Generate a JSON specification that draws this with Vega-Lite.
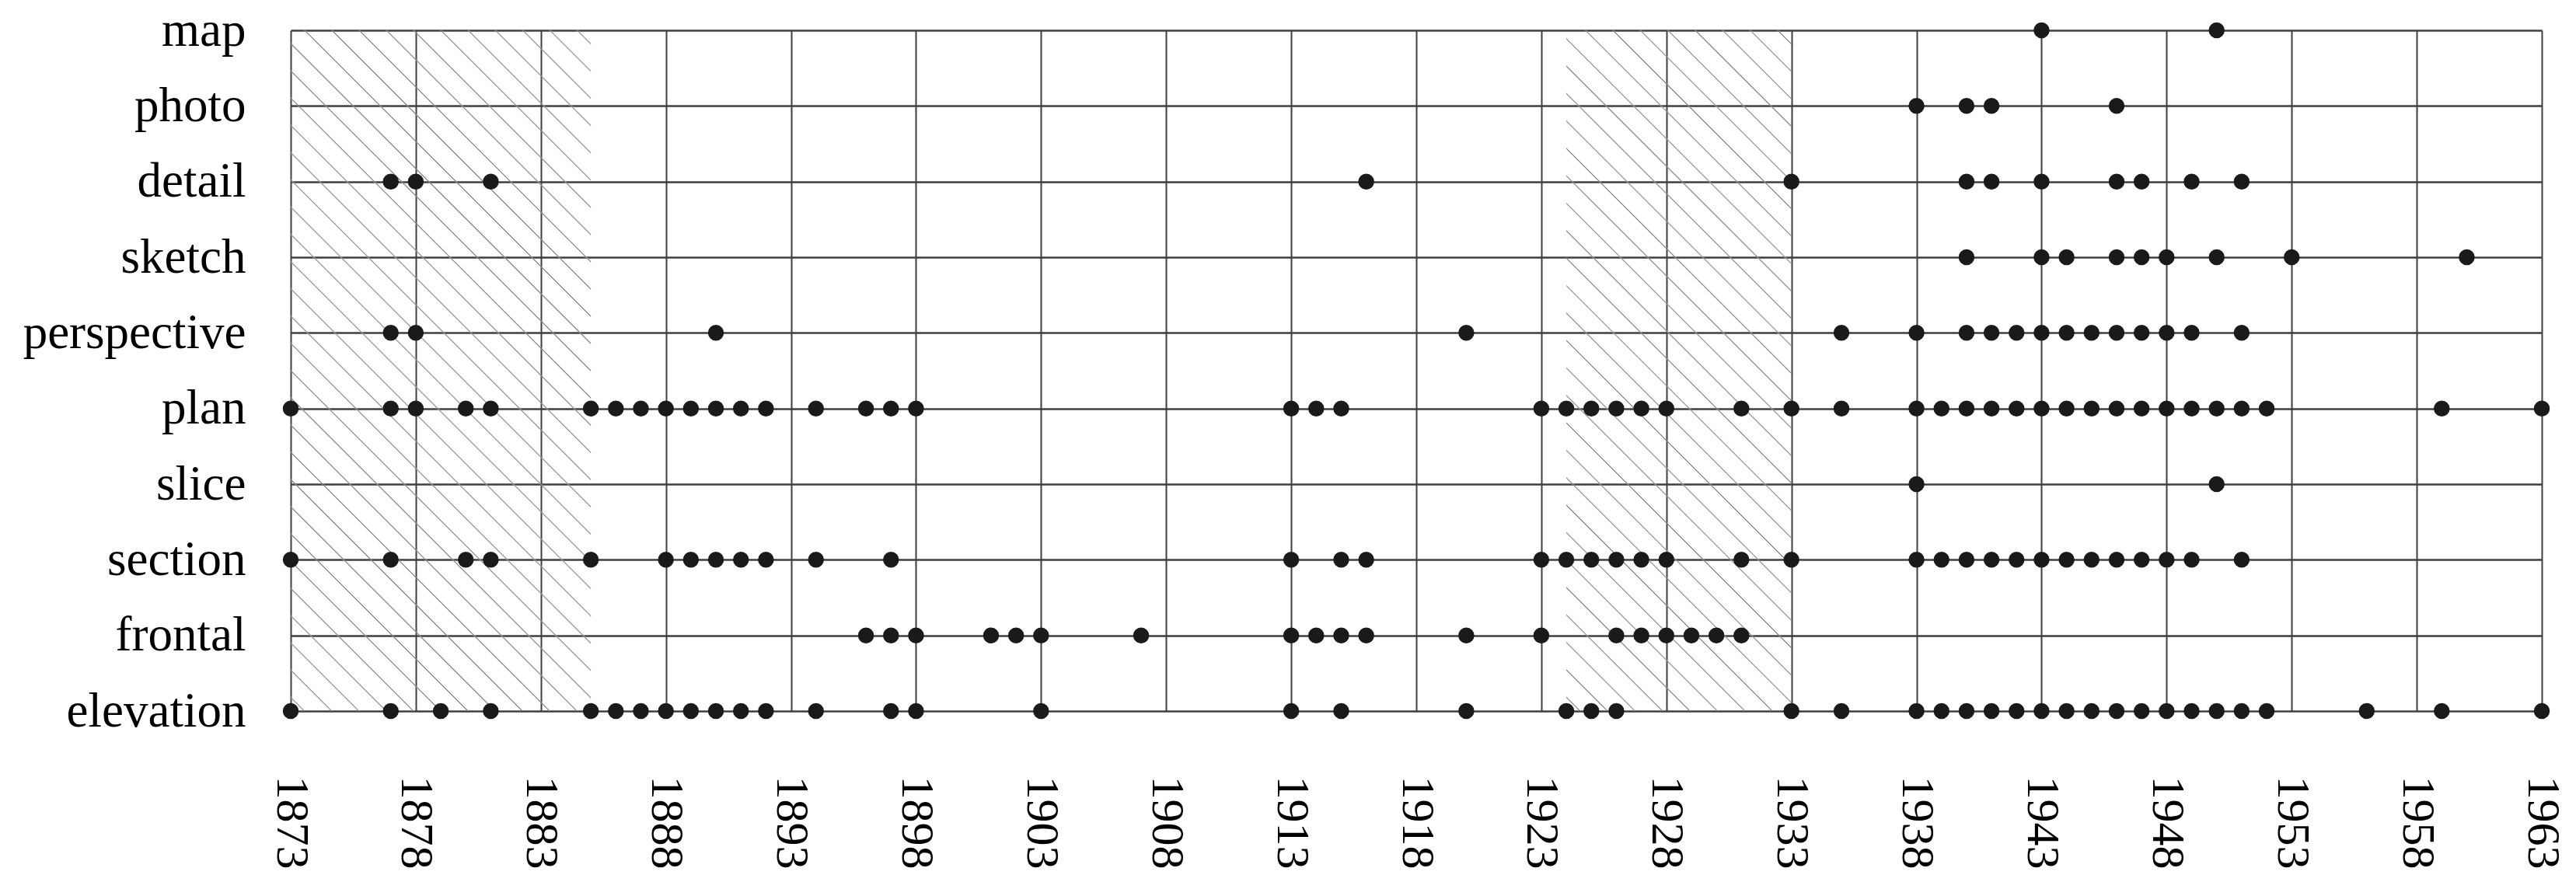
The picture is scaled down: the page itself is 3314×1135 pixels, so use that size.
{
  "$schema": "https://vega.github.io/schema/vega-lite/v6.json",
  "width": 2896,
  "height": 876,
  "autosize": {"type": "none"},
  "padding": {"left": 374, "top": 39, "right": 44, "bottom": 220},
  "background": "white",
  "datasets": {
    "periods": [
      {"start": 1873, "end": 1885},
      {"start": 1924, "end": 1933}
    ],
    "drawings": [
      {"type": "map", "year": 1943}, {"type": "map", "year": 1950},
      {"type": "photo", "year": 1938}, {"type": "photo", "year": 1940}, {"type": "photo", "year": 1941}, {"type": "photo", "year": 1946},
      {"type": "detail", "year": 1877}, {"type": "detail", "year": 1878}, {"type": "detail", "year": 1881}, {"type": "detail", "year": 1916}, {"type": "detail", "year": 1933}, {"type": "detail", "year": 1940}, {"type": "detail", "year": 1941}, {"type": "detail", "year": 1943}, {"type": "detail", "year": 1946}, {"type": "detail", "year": 1947}, {"type": "detail", "year": 1949}, {"type": "detail", "year": 1951},
      {"type": "sketch", "year": 1940}, {"type": "sketch", "year": 1943}, {"type": "sketch", "year": 1944}, {"type": "sketch", "year": 1946}, {"type": "sketch", "year": 1947}, {"type": "sketch", "year": 1948}, {"type": "sketch", "year": 1950}, {"type": "sketch", "year": 1953}, {"type": "sketch", "year": 1960},
      {"type": "perspective", "year": 1877}, {"type": "perspective", "year": 1878}, {"type": "perspective", "year": 1890}, {"type": "perspective", "year": 1920}, {"type": "perspective", "year": 1935}, {"type": "perspective", "year": 1938}, {"type": "perspective", "year": 1940}, {"type": "perspective", "year": 1941}, {"type": "perspective", "year": 1942}, {"type": "perspective", "year": 1943}, {"type": "perspective", "year": 1944}, {"type": "perspective", "year": 1945}, {"type": "perspective", "year": 1946}, {"type": "perspective", "year": 1947}, {"type": "perspective", "year": 1948}, {"type": "perspective", "year": 1949}, {"type": "perspective", "year": 1951},
      {"type": "plan", "year": 1873}, {"type": "plan", "year": 1877}, {"type": "plan", "year": 1878}, {"type": "plan", "year": 1880}, {"type": "plan", "year": 1881}, {"type": "plan", "year": 1885}, {"type": "plan", "year": 1886}, {"type": "plan", "year": 1887}, {"type": "plan", "year": 1888}, {"type": "plan", "year": 1889}, {"type": "plan", "year": 1890}, {"type": "plan", "year": 1891}, {"type": "plan", "year": 1892}, {"type": "plan", "year": 1894}, {"type": "plan", "year": 1896}, {"type": "plan", "year": 1897}, {"type": "plan", "year": 1898}, {"type": "plan", "year": 1913}, {"type": "plan", "year": 1914}, {"type": "plan", "year": 1915}, {"type": "plan", "year": 1923}, {"type": "plan", "year": 1924}, {"type": "plan", "year": 1925}, {"type": "plan", "year": 1926}, {"type": "plan", "year": 1927}, {"type": "plan", "year": 1928}, {"type": "plan", "year": 1931}, {"type": "plan", "year": 1933}, {"type": "plan", "year": 1935}, {"type": "plan", "year": 1938}, {"type": "plan", "year": 1939}, {"type": "plan", "year": 1940}, {"type": "plan", "year": 1941}, {"type": "plan", "year": 1942}, {"type": "plan", "year": 1943}, {"type": "plan", "year": 1944}, {"type": "plan", "year": 1945}, {"type": "plan", "year": 1946}, {"type": "plan", "year": 1947}, {"type": "plan", "year": 1948}, {"type": "plan", "year": 1949}, {"type": "plan", "year": 1950}, {"type": "plan", "year": 1951}, {"type": "plan", "year": 1952}, {"type": "plan", "year": 1959}, {"type": "plan", "year": 1963},
      {"type": "slice", "year": 1938}, {"type": "slice", "year": 1950},
      {"type": "section", "year": 1873}, {"type": "section", "year": 1877}, {"type": "section", "year": 1880}, {"type": "section", "year": 1881}, {"type": "section", "year": 1885}, {"type": "section", "year": 1888}, {"type": "section", "year": 1889}, {"type": "section", "year": 1890}, {"type": "section", "year": 1891}, {"type": "section", "year": 1892}, {"type": "section", "year": 1894}, {"type": "section", "year": 1897}, {"type": "section", "year": 1913}, {"type": "section", "year": 1915}, {"type": "section", "year": 1916}, {"type": "section", "year": 1923}, {"type": "section", "year": 1924}, {"type": "section", "year": 1925}, {"type": "section", "year": 1926}, {"type": "section", "year": 1927}, {"type": "section", "year": 1928}, {"type": "section", "year": 1931}, {"type": "section", "year": 1933}, {"type": "section", "year": 1938}, {"type": "section", "year": 1939}, {"type": "section", "year": 1940}, {"type": "section", "year": 1941}, {"type": "section", "year": 1942}, {"type": "section", "year": 1943}, {"type": "section", "year": 1944}, {"type": "section", "year": 1945}, {"type": "section", "year": 1946}, {"type": "section", "year": 1947}, {"type": "section", "year": 1948}, {"type": "section", "year": 1949}, {"type": "section", "year": 1951},
      {"type": "frontal", "year": 1896}, {"type": "frontal", "year": 1897}, {"type": "frontal", "year": 1898}, {"type": "frontal", "year": 1901}, {"type": "frontal", "year": 1902}, {"type": "frontal", "year": 1903}, {"type": "frontal", "year": 1907}, {"type": "frontal", "year": 1913}, {"type": "frontal", "year": 1914}, {"type": "frontal", "year": 1915}, {"type": "frontal", "year": 1916}, {"type": "frontal", "year": 1920}, {"type": "frontal", "year": 1923}, {"type": "frontal", "year": 1926}, {"type": "frontal", "year": 1927}, {"type": "frontal", "year": 1928}, {"type": "frontal", "year": 1929}, {"type": "frontal", "year": 1930}, {"type": "frontal", "year": 1931},
      {"type": "elevation", "year": 1873}, {"type": "elevation", "year": 1877}, {"type": "elevation", "year": 1879}, {"type": "elevation", "year": 1881}, {"type": "elevation", "year": 1885}, {"type": "elevation", "year": 1886}, {"type": "elevation", "year": 1887}, {"type": "elevation", "year": 1888}, {"type": "elevation", "year": 1889}, {"type": "elevation", "year": 1890}, {"type": "elevation", "year": 1891}, {"type": "elevation", "year": 1892}, {"type": "elevation", "year": 1894}, {"type": "elevation", "year": 1897}, {"type": "elevation", "year": 1898}, {"type": "elevation", "year": 1903}, {"type": "elevation", "year": 1913}, {"type": "elevation", "year": 1915}, {"type": "elevation", "year": 1920}, {"type": "elevation", "year": 1924}, {"type": "elevation", "year": 1925}, {"type": "elevation", "year": 1926}, {"type": "elevation", "year": 1933}, {"type": "elevation", "year": 1935}, {"type": "elevation", "year": 1938}, {"type": "elevation", "year": 1939}, {"type": "elevation", "year": 1940}, {"type": "elevation", "year": 1941}, {"type": "elevation", "year": 1942}, {"type": "elevation", "year": 1943}, {"type": "elevation", "year": 1944}, {"type": "elevation", "year": 1945}, {"type": "elevation", "year": 1946}, {"type": "elevation", "year": 1947}, {"type": "elevation", "year": 1948}, {"type": "elevation", "year": 1949}, {"type": "elevation", "year": 1950}, {"type": "elevation", "year": 1951}, {"type": "elevation", "year": 1952}, {"type": "elevation", "year": 1956}, {"type": "elevation", "year": 1959}, {"type": "elevation", "year": 1963}
    ]
  },
  "layer": [
    {
      "data": {"name": "periods"},
      "transform": [{"filter": "datum.start == 1873"}],
      "mark": {
        "type": "rect",
        "fill": {
          "gradient": "linear",
          "x1": 0, "y1": 1, "x2": 0.5316, "y2": -0.2064,
          "stops": [
            {"offset": 0.0123, "color": "rgba(255,255,255,0)"}, {"offset": 0.0139, "color": "#6a6a6a"}, {"offset": 0.0155, "color": "rgba(255,255,255,0)"},
            {"offset": 0.0401, "color": "rgba(255,255,255,0)"}, {"offset": 0.0417, "color": "#6a6a6a"}, {"offset": 0.0433, "color": "rgba(255,255,255,0)"},
            {"offset": 0.0678, "color": "rgba(255,255,255,0)"}, {"offset": 0.0694, "color": "#6a6a6a"}, {"offset": 0.0710, "color": "rgba(255,255,255,0)"},
            {"offset": 0.0956, "color": "rgba(255,255,255,0)"}, {"offset": 0.0972, "color": "#6a6a6a"}, {"offset": 0.0988, "color": "rgba(255,255,255,0)"},
            {"offset": 0.1234, "color": "rgba(255,255,255,0)"}, {"offset": 0.1250, "color": "#6a6a6a"}, {"offset": 0.1266, "color": "rgba(255,255,255,0)"},
            {"offset": 0.1512, "color": "rgba(255,255,255,0)"}, {"offset": 0.1528, "color": "#6a6a6a"}, {"offset": 0.1544, "color": "rgba(255,255,255,0)"},
            {"offset": 0.1790, "color": "rgba(255,255,255,0)"}, {"offset": 0.1806, "color": "#6a6a6a"}, {"offset": 0.1822, "color": "rgba(255,255,255,0)"},
            {"offset": 0.2067, "color": "rgba(255,255,255,0)"}, {"offset": 0.2083, "color": "#6a6a6a"}, {"offset": 0.2099, "color": "rgba(255,255,255,0)"},
            {"offset": 0.2345, "color": "rgba(255,255,255,0)"}, {"offset": 0.2361, "color": "#6a6a6a"}, {"offset": 0.2377, "color": "rgba(255,255,255,0)"},
            {"offset": 0.2623, "color": "rgba(255,255,255,0)"}, {"offset": 0.2639, "color": "#6a6a6a"}, {"offset": 0.2655, "color": "rgba(255,255,255,0)"},
            {"offset": 0.2901, "color": "rgba(255,255,255,0)"}, {"offset": 0.2917, "color": "#6a6a6a"}, {"offset": 0.2933, "color": "rgba(255,255,255,0)"},
            {"offset": 0.3178, "color": "rgba(255,255,255,0)"}, {"offset": 0.3194, "color": "#6a6a6a"}, {"offset": 0.3210, "color": "rgba(255,255,255,0)"},
            {"offset": 0.3456, "color": "rgba(255,255,255,0)"}, {"offset": 0.3472, "color": "#6a6a6a"}, {"offset": 0.3488, "color": "rgba(255,255,255,0)"},
            {"offset": 0.3734, "color": "rgba(255,255,255,0)"}, {"offset": 0.3750, "color": "#6a6a6a"}, {"offset": 0.3766, "color": "rgba(255,255,255,0)"},
            {"offset": 0.4012, "color": "rgba(255,255,255,0)"}, {"offset": 0.4028, "color": "#6a6a6a"}, {"offset": 0.4044, "color": "rgba(255,255,255,0)"},
            {"offset": 0.4290, "color": "rgba(255,255,255,0)"}, {"offset": 0.4306, "color": "#6a6a6a"}, {"offset": 0.4322, "color": "rgba(255,255,255,0)"},
            {"offset": 0.4567, "color": "rgba(255,255,255,0)"}, {"offset": 0.4583, "color": "#6a6a6a"}, {"offset": 0.4599, "color": "rgba(255,255,255,0)"},
            {"offset": 0.4845, "color": "rgba(255,255,255,0)"}, {"offset": 0.4861, "color": "#6a6a6a"}, {"offset": 0.4877, "color": "rgba(255,255,255,0)"},
            {"offset": 0.5123, "color": "rgba(255,255,255,0)"}, {"offset": 0.5139, "color": "#6a6a6a"}, {"offset": 0.5155, "color": "rgba(255,255,255,0)"},
            {"offset": 0.5401, "color": "rgba(255,255,255,0)"}, {"offset": 0.5417, "color": "#6a6a6a"}, {"offset": 0.5433, "color": "rgba(255,255,255,0)"},
            {"offset": 0.5678, "color": "rgba(255,255,255,0)"}, {"offset": 0.5694, "color": "#6a6a6a"}, {"offset": 0.5710, "color": "rgba(255,255,255,0)"},
            {"offset": 0.5956, "color": "rgba(255,255,255,0)"}, {"offset": 0.5972, "color": "#6a6a6a"}, {"offset": 0.5988, "color": "rgba(255,255,255,0)"},
            {"offset": 0.6234, "color": "rgba(255,255,255,0)"}, {"offset": 0.6250, "color": "#6a6a6a"}, {"offset": 0.6266, "color": "rgba(255,255,255,0)"},
            {"offset": 0.6512, "color": "rgba(255,255,255,0)"}, {"offset": 0.6528, "color": "#6a6a6a"}, {"offset": 0.6544, "color": "rgba(255,255,255,0)"},
            {"offset": 0.6790, "color": "rgba(255,255,255,0)"}, {"offset": 0.6806, "color": "#6a6a6a"}, {"offset": 0.6822, "color": "rgba(255,255,255,0)"},
            {"offset": 0.7067, "color": "rgba(255,255,255,0)"}, {"offset": 0.7083, "color": "#6a6a6a"}, {"offset": 0.7099, "color": "rgba(255,255,255,0)"},
            {"offset": 0.7345, "color": "rgba(255,255,255,0)"}, {"offset": 0.7361, "color": "#6a6a6a"}, {"offset": 0.7377, "color": "rgba(255,255,255,0)"},
            {"offset": 0.7623, "color": "rgba(255,255,255,0)"}, {"offset": 0.7639, "color": "#6a6a6a"}, {"offset": 0.7655, "color": "rgba(255,255,255,0)"},
            {"offset": 0.7901, "color": "rgba(255,255,255,0)"}, {"offset": 0.7917, "color": "#6a6a6a"}, {"offset": 0.7933, "color": "rgba(255,255,255,0)"},
            {"offset": 0.8178, "color": "rgba(255,255,255,0)"}, {"offset": 0.8194, "color": "#6a6a6a"}, {"offset": 0.8210, "color": "rgba(255,255,255,0)"},
            {"offset": 0.8456, "color": "rgba(255,255,255,0)"}, {"offset": 0.8472, "color": "#6a6a6a"}, {"offset": 0.8488, "color": "rgba(255,255,255,0)"},
            {"offset": 0.8734, "color": "rgba(255,255,255,0)"}, {"offset": 0.8750, "color": "#6a6a6a"}, {"offset": 0.8766, "color": "rgba(255,255,255,0)"},
            {"offset": 0.9012, "color": "rgba(255,255,255,0)"}, {"offset": 0.9028, "color": "#6a6a6a"}, {"offset": 0.9044, "color": "rgba(255,255,255,0)"},
            {"offset": 0.9290, "color": "rgba(255,255,255,0)"}, {"offset": 0.9306, "color": "#6a6a6a"}, {"offset": 0.9322, "color": "rgba(255,255,255,0)"},
            {"offset": 0.9567, "color": "rgba(255,255,255,0)"}, {"offset": 0.9583, "color": "#6a6a6a"}, {"offset": 0.9599, "color": "rgba(255,255,255,0)"},
            {"offset": 0.9845, "color": "rgba(255,255,255,0)"}, {"offset": 0.9861, "color": "#6a6a6a"}, {"offset": 0.9877, "color": "rgba(255,255,255,0)"}
          ]
        }
      },
      "encoding": {
        "x": {"field": "start", "type": "quantitative", "title": null, "scale": {"domain": [1873, 1963], "nice": false, "zero": false}, "axis": {"values": [1873, 1878, 1883, 1888, 1893, 1898, 1903, 1908, 1913, 1918, 1923, 1928, 1933, 1938, 1943, 1948, 1953, 1958, 1963], "format": "d"}},
        "x2": {"field": "end"}
      }
    },
    {
      "data": {"name": "periods"},
      "transform": [{"filter": "datum.start == 1924"}],
      "mark": {
        "type": "rect",
        "fill": {
          "gradient": "linear",
          "x1": 0, "y1": 1, "x2": 0.3964, "y2": -0.1995,
          "stops": [
            {"offset": 0.0135, "color": "rgba(255,255,255,0)"}, {"offset": 0.0152, "color": "#6a6a6a"}, {"offset": 0.0169, "color": "rgba(255,255,255,0)"},
            {"offset": 0.0438, "color": "rgba(255,255,255,0)"}, {"offset": 0.0455, "color": "#6a6a6a"}, {"offset": 0.0472, "color": "rgba(255,255,255,0)"},
            {"offset": 0.0741, "color": "rgba(255,255,255,0)"}, {"offset": 0.0758, "color": "#6a6a6a"}, {"offset": 0.0775, "color": "rgba(255,255,255,0)"},
            {"offset": 0.1044, "color": "rgba(255,255,255,0)"}, {"offset": 0.1061, "color": "#6a6a6a"}, {"offset": 0.1078, "color": "rgba(255,255,255,0)"},
            {"offset": 0.1347, "color": "rgba(255,255,255,0)"}, {"offset": 0.1364, "color": "#6a6a6a"}, {"offset": 0.1381, "color": "rgba(255,255,255,0)"},
            {"offset": 0.1650, "color": "rgba(255,255,255,0)"}, {"offset": 0.1667, "color": "#6a6a6a"}, {"offset": 0.1684, "color": "rgba(255,255,255,0)"},
            {"offset": 0.1953, "color": "rgba(255,255,255,0)"}, {"offset": 0.1970, "color": "#6a6a6a"}, {"offset": 0.1987, "color": "rgba(255,255,255,0)"},
            {"offset": 0.2256, "color": "rgba(255,255,255,0)"}, {"offset": 0.2273, "color": "#6a6a6a"}, {"offset": 0.2290, "color": "rgba(255,255,255,0)"},
            {"offset": 0.2559, "color": "rgba(255,255,255,0)"}, {"offset": 0.2576, "color": "#6a6a6a"}, {"offset": 0.2593, "color": "rgba(255,255,255,0)"},
            {"offset": 0.2862, "color": "rgba(255,255,255,0)"}, {"offset": 0.2879, "color": "#6a6a6a"}, {"offset": 0.2896, "color": "rgba(255,255,255,0)"},
            {"offset": 0.3165, "color": "rgba(255,255,255,0)"}, {"offset": 0.3182, "color": "#6a6a6a"}, {"offset": 0.3199, "color": "rgba(255,255,255,0)"},
            {"offset": 0.3468, "color": "rgba(255,255,255,0)"}, {"offset": 0.3485, "color": "#6a6a6a"}, {"offset": 0.3502, "color": "rgba(255,255,255,0)"},
            {"offset": 0.3771, "color": "rgba(255,255,255,0)"}, {"offset": 0.3788, "color": "#6a6a6a"}, {"offset": 0.3805, "color": "rgba(255,255,255,0)"},
            {"offset": 0.4074, "color": "rgba(255,255,255,0)"}, {"offset": 0.4091, "color": "#6a6a6a"}, {"offset": 0.4108, "color": "rgba(255,255,255,0)"},
            {"offset": 0.4377, "color": "rgba(255,255,255,0)"}, {"offset": 0.4394, "color": "#6a6a6a"}, {"offset": 0.4411, "color": "rgba(255,255,255,0)"},
            {"offset": 0.4680, "color": "rgba(255,255,255,0)"}, {"offset": 0.4697, "color": "#6a6a6a"}, {"offset": 0.4714, "color": "rgba(255,255,255,0)"},
            {"offset": 0.4983, "color": "rgba(255,255,255,0)"}, {"offset": 0.5000, "color": "#6a6a6a"}, {"offset": 0.5017, "color": "rgba(255,255,255,0)"},
            {"offset": 0.5286, "color": "rgba(255,255,255,0)"}, {"offset": 0.5303, "color": "#6a6a6a"}, {"offset": 0.5320, "color": "rgba(255,255,255,0)"},
            {"offset": 0.5589, "color": "rgba(255,255,255,0)"}, {"offset": 0.5606, "color": "#6a6a6a"}, {"offset": 0.5623, "color": "rgba(255,255,255,0)"},
            {"offset": 0.5892, "color": "rgba(255,255,255,0)"}, {"offset": 0.5909, "color": "#6a6a6a"}, {"offset": 0.5926, "color": "rgba(255,255,255,0)"},
            {"offset": 0.6195, "color": "rgba(255,255,255,0)"}, {"offset": 0.6212, "color": "#6a6a6a"}, {"offset": 0.6229, "color": "rgba(255,255,255,0)"},
            {"offset": 0.6498, "color": "rgba(255,255,255,0)"}, {"offset": 0.6515, "color": "#6a6a6a"}, {"offset": 0.6532, "color": "rgba(255,255,255,0)"},
            {"offset": 0.6801, "color": "rgba(255,255,255,0)"}, {"offset": 0.6818, "color": "#6a6a6a"}, {"offset": 0.6835, "color": "rgba(255,255,255,0)"},
            {"offset": 0.7104, "color": "rgba(255,255,255,0)"}, {"offset": 0.7121, "color": "#6a6a6a"}, {"offset": 0.7138, "color": "rgba(255,255,255,0)"},
            {"offset": 0.7407, "color": "rgba(255,255,255,0)"}, {"offset": 0.7424, "color": "#6a6a6a"}, {"offset": 0.7441, "color": "rgba(255,255,255,0)"},
            {"offset": 0.7710, "color": "rgba(255,255,255,0)"}, {"offset": 0.7727, "color": "#6a6a6a"}, {"offset": 0.7744, "color": "rgba(255,255,255,0)"},
            {"offset": 0.8013, "color": "rgba(255,255,255,0)"}, {"offset": 0.8030, "color": "#6a6a6a"}, {"offset": 0.8047, "color": "rgba(255,255,255,0)"},
            {"offset": 0.8316, "color": "rgba(255,255,255,0)"}, {"offset": 0.8333, "color": "#6a6a6a"}, {"offset": 0.8350, "color": "rgba(255,255,255,0)"},
            {"offset": 0.8619, "color": "rgba(255,255,255,0)"}, {"offset": 0.8636, "color": "#6a6a6a"}, {"offset": 0.8653, "color": "rgba(255,255,255,0)"},
            {"offset": 0.8922, "color": "rgba(255,255,255,0)"}, {"offset": 0.8939, "color": "#6a6a6a"}, {"offset": 0.8956, "color": "rgba(255,255,255,0)"},
            {"offset": 0.9225, "color": "rgba(255,255,255,0)"}, {"offset": 0.9242, "color": "#6a6a6a"}, {"offset": 0.9259, "color": "rgba(255,255,255,0)"},
            {"offset": 0.9528, "color": "rgba(255,255,255,0)"}, {"offset": 0.9545, "color": "#6a6a6a"}, {"offset": 0.9562, "color": "rgba(255,255,255,0)"},
            {"offset": 0.9831, "color": "rgba(255,255,255,0)"}, {"offset": 0.9848, "color": "#6a6a6a"}, {"offset": 0.9865, "color": "rgba(255,255,255,0)"}
          ]
        }
      },
      "encoding": {
        "x": {"field": "start", "type": "quantitative", "title": null, "scale": {"domain": [1873, 1963], "nice": false, "zero": false}, "axis": {"values": [1873, 1878, 1883, 1888, 1893, 1898, 1903, 1908, 1913, 1918, 1923, 1928, 1933, 1938, 1943, 1948, 1953, 1958, 1963], "format": "d"}},
        "x2": {"field": "end"}
      }
    },
    {
      "data": {"name": "drawings"},
      "mark": {"type": "circle", "size": 420, "color": "#1b1a1a", "opacity": 1},
      "encoding": {
        "x": {"field": "year", "type": "quantitative", "title": null, "scale": {"domain": [1873, 1963], "nice": false, "zero": false}, "axis": {"values": [1873, 1878, 1883, 1888, 1893, 1898, 1903, 1908, 1913, 1918, 1923, 1928, 1933, 1938, 1943, 1948, 1953, 1958, 1963], "format": "d"}},
        "y": {"field": "type", "type": "nominal", "title": null, "sort": ["map", "photo", "detail", "sketch", "perspective", "plan", "slice", "section", "frontal", "elevation"], "scale": {"type": "point", "padding": 0}}
      }
    }
  ],
  "config": {
    "view": {"stroke": null},
    "axis": {
      "domain": false,
      "ticks": false,
      "grid": true,
      "gridColor": "#3f3f3f",
      "gridWidth": 2,
      "gridOpacity": 1,
      "labelFont": "Liberation Serif",
      "labelColor": "#000000",
      "labelLimit": 0
    },
    "axisX": {
      "labelAngle": 90,
      "labelFontSize": 60,
      "labelPadding": 83,
      "labelFlush": false,
      "labelOverlap": false,
      "labelBound": false,
      "labelAlign": "left",
      "labelBaseline": "middle"
    },
    "axisY": {
      "labelFontSize": 63,
      "labelPadding": 58,
      "gridWidth": 2.5
    }
  }
}
